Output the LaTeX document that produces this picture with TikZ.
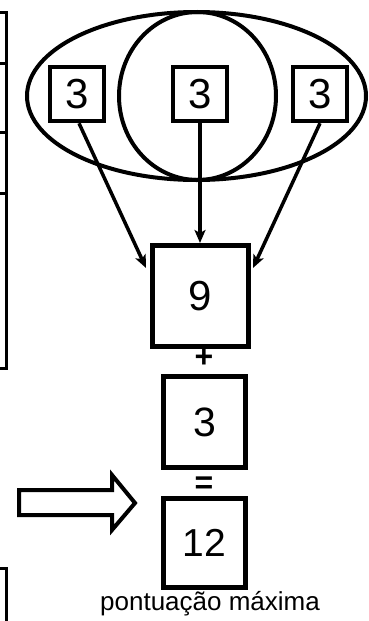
\documentclass[tikz,border=0pt]{standalone}
\usepackage{fontspec}
\setmainfont{Liberation Sans}
\usetikzlibrary{arrows.meta}
\begin{document}
\begin{tikzpicture}[x=1pt,y=-1pt,
  numbox/.style={draw,line width=4.5pt,inner sep=0pt,minimum width=#1,minimum height=#1},
  conn/.style={line width=3.5pt,-{Stealth[length=13pt,width=11pt,inset=3pt]}},
  big/.style={font=\fontsize{42}{42}\selectfont},
  op/.style={font=\bfseries\fontsize{32}{32}\selectfont,inner sep=0pt},
  frame/.style={line width=3pt}]
\useasboundingbox (0,0) rectangle (369,621);
% cut-off table at the left
\draw[frame] (0,12) -- (6,12) -- (6,368) -- (0,368);
\draw[frame] (0,63) -- (6,63);
\draw[frame] (0,132) -- (6,132);
\draw[frame] (0,193) -- (6,193);
\draw[frame] (0,568) -- (6,568) -- (6,621);
% ellipse and circle
\draw[line width=4pt] (196.5,96) ellipse [x radius=169.5, y radius=84];
\draw[line width=4pt] (197.5,96) ellipse [x radius=78.5, y radius=84];
% small boxes
\node[numbox=54pt,big] (a) at (77,94) {3};
\node[numbox=54pt,big] (b) at (200,94) {3};
\node[numbox=54pt,big] (c) at (320,94) {3};
% result boxes
\node[draw,line width=5pt,inner sep=0pt,minimum width=96pt,minimum height=101pt,big] (nine) at (200,296) {9};
\node[op] (plus) at (204,358) {+};
\node[draw,line width=4.5pt,inner sep=0pt,minimum width=82pt,minimum height=91pt,font=\fontsize{41}{41}\selectfont] (three) at (204.5,422) {3};
\node[op] (eq) at (204,485) {=};
\node[draw,line width=4.5pt,inner sep=0pt,minimum width=82pt,minimum height=89pt,font=\fontsize{39}{39}\selectfont] (twelve) at (204.5,543) {12};
\node[anchor=base,inner sep=0pt,font=\fontsize{26}{26}\selectfont] (label) at (210,610) {pontuação máxima};
% connectors
\coordinate (tl) at (146,268);
\coordinate (tr) at (253,268);
\draw[conn] (a.south) ++(2,0) coordinate (as) -- (tl);
\draw[conn] (b.south) -- (nine.north);
\draw[conn] (c.south) -- (tr);
% big hollow arrow
\draw[line width=4pt,line join=miter] (19,490) -- (112,490) -- (112,475) -- (135,503) -- (112,530) -- (112,515) -- (19,515) -- cycle;
\end{tikzpicture}
\end{document}
